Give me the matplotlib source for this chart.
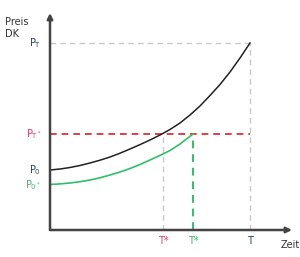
import matplotlib.pyplot as plt

# values (x: time, y: price, arbitrary units)
black_t = [0, 10, 20, 30, 40, 50, 60, 70, 80, 90, 100, 110, 120, 130, 140,
           150, 160, 170, 180, 190, 200]
black_p = [60, 61, 62.5, 64.5, 67, 69.8, 73, 76.8, 81, 85.4, 90, 95, 100.5,
           107, 115, 124, 134.5, 145.5, 158, 172, 187]
green_t = [0, 10, 20, 30, 40, 50, 60, 70, 80, 90, 100, 110, 120, 130, 143]
green_p = [45.5, 46.1, 47, 48.3, 50, 52.2, 55, 58, 61.5, 65.5, 70, 74.6,
           79.5, 86, 96]

P0, P0s, PTs, PT = 60, 45, 96, 187
Ts_red, Ts_green, T = 113, 143, 200

grey = '#c8c8c8'
red = '#e01b24'
green = '#2fbf6a'
lab_blue = '#2b3f66'
lab_red = '#e0406a'
lab_green = '#3cb96a'

fig = plt.figure(figsize=(3.0, 2.57), dpi=100)
ax = fig.add_axes([50 / 300, 27 / 257, 242 / 300, 217 / 257])
ax.set_xlim(0, 242)
ax.set_ylim(0, 217)
ax.axis('off')

# guide lines
ax.plot([0, T], [PT, PT], color=grey, lw=1, ls=(0, (4, 3)))
ax.plot([T, T], [0, PT], color=grey, lw=1, ls=(0, (4, 3)))
ax.plot([Ts_red, Ts_red], [0, PTs], color=grey, lw=1, ls=(0, (4, 3)))
ax.plot([0, T], [PTs, PTs], color=red, lw=1.2, ls=(0, (4, 3)))
ax.plot([Ts_green, Ts_green], [0, PTs], color=green, lw=1.4, ls=(0, (4, 3)))

# curves
ax.plot(black_t, black_p, color='#222222', lw=1.1)
ax.plot(green_t, green_p, color=green, lw=1.2)

# axes arrows
arrow = dict(arrowstyle='-|>', color='#444444', lw=1.8, mutation_scale=8,
             shrinkA=0, shrinkB=0)
ax.annotate('', xy=(242, 0), xytext=(0, 0), arrowprops=arrow, annotation_clip=False)
ax.annotate('', xy=(0, 217), xytext=(0, 0), arrowprops=arrow, annotation_clip=False)

fs = 7
ax.text(-45, 213, 'Preis\nDK', fontsize=fs, color='#333333', va='top', ha='left',
        linespacing=1.3, clip_on=False)
ax.text(-9, PT, r'$\mathregular{P_T}$', fontsize=fs, color=lab_blue, ha='right', va='center')
ax.text(-9, PTs, r'$\mathregular{P_{T^*}}$', fontsize=fs, color=lab_red, ha='right', va='center')
ax.text(-9, P0, r'$\mathregular{P_0}$', fontsize=fs, color=lab_blue, ha='right', va='center')
ax.text(-9, P0s, r'$\mathregular{P_{0^*}}$', fontsize=fs, color=lab_green, ha='right', va='center')

ax.text(Ts_red, -11, 'T*', fontsize=fs, color=lab_red, ha='center', va='center')
ax.text(Ts_green, -11, 'T*', fontsize=fs, color=lab_green, ha='center', va='center')
ax.text(T, -11, 'T', fontsize=fs, color=lab_blue, ha='center', va='center')
ax.text(240, -15, 'Zeit', fontsize=fs, color='#333333', ha='center', va='center')

fig.savefig('out.png', dpi=100)
